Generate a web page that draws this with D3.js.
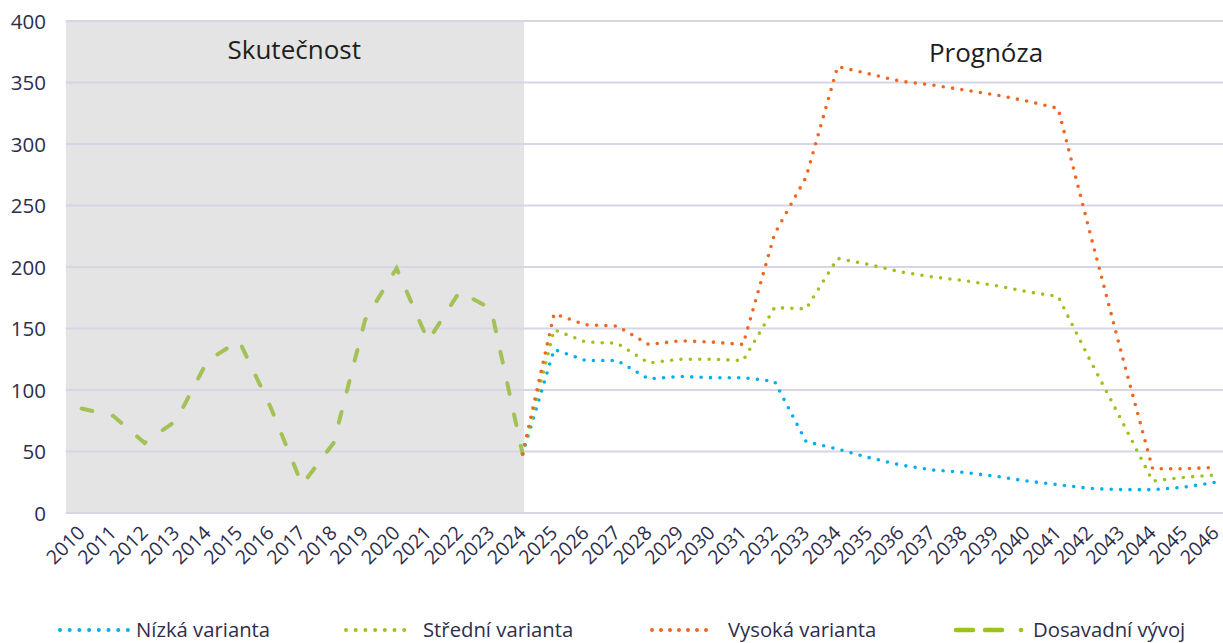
<!DOCTYPE html>
<html>
<head>
<meta charset="utf-8">
<script src="https://cdn.jsdelivr.net/npm/d3@7"></script>
<style>
  html, body { margin: 0; padding: 0; background: #fff; }
  svg { display: block; font-family: "Open Sans", "Noto Sans", sans-serif; }
</style>
</head>
<body>
<svg id="chart" width="1223" height="643"></svg>
<script>
// ---- data ----
const years = d3.range(2010, 2047).map(String);
const yTicks = [0, 50, 100, 150, 200, 250, 300, 350, 400];

// historical (2010–2024)
const historyYears = d3.range(2010, 2025).map(String);
const historyValues = [85, 79, 57, 75, 124, 140, 86, 23, 57, 157, 199, 140, 180, 166, 48];

// forecasts (2024–2046)
const forecastYears = d3.range(2024, 2047).map(String);
const lowValues =    [48, 133, 124, 124, 109, 111, 110, 110, 107, 58, 52, 45, 39, 35, 33, 30, 26, 23, 20, 19, 19, 21, 25];
const middleValues = [48, 149, 139, 138, 122, 125, 125, 124, 167, 166, 207, 202, 196, 192, 189, 185, 180, 176, 125, 76, 26, 29, 31];
const highValues =   [48, 162, 153, 152, 137, 140, 139, 137, 227, 273, 363, 357, 351, 348, 344, 340, 335, 329, 229, 131, 36, 36, 37];

const seriesNames = ["Nízká varianta", "Střední varianta", "Vysoká varianta", "Dosavadní vývoj"];
const periodLabels = ["Skutečnost", "Prognóza"];

// ---- layout ----
const svg = d3.select("#chart");
const step = 31.5;
const x0 = 81.6;
const x = d3.scalePoint().domain(years).range([x0, x0 + step * (years.length - 1)]);
const y = d3.scaleLinear().domain([0, 400]).range([513, 21]);
const plotLeft = x0 - step / 2;
const W = 1223;

const textColor = "#2d2d4d";
const cBlue = "#00aeef", cGreen = "#9bc31c", cOrange = "#f0661f", cHist = "#a3c157";

// shaded "actual" region
svg.append("rect")
  .attr("x", plotLeft).attr("y", y(400))
  .attr("width", x("2024") - plotLeft + 1.5)
  .attr("height", y(0) - y(400))
  .attr("fill", "#e4e4e4");

// gridlines
svg.append("g").selectAll("line").data(yTicks).join("line")
  .attr("x1", plotLeft).attr("x2", W)
  .attr("y1", d => y(d)).attr("y2", d => y(d))
  .attr("stroke", "#d6d6e6").attr("stroke-width", 2);

// y axis labels
const yAxis = d3.axisLeft(y).tickValues(yTicks).tickSize(0).tickPadding(0);
const gy = svg.append("g").attr("transform", "translate(46,0)").call(yAxis);
gy.select(".domain").remove();
gy.selectAll("text").attr("font-size", 20.5).attr("fill", textColor)
  .attr("font-family", "'Open Sans', sans-serif").attr("dy", "0.35em");

// x axis labels
const xAxis = d3.axisBottom(x).tickSize(0).tickPadding(0);
const gx = svg.append("g").attr("transform", `translate(0,${y(0)})`).call(xAxis);
gx.select(".domain").remove();
gx.selectAll("text")
  .attr("font-size", 19.5).attr("fill", textColor)
  .attr("font-family", "'Open Sans', sans-serif")
  .attr("text-anchor", "end")
  .attr("y", 0).attr("dy", 0)
  .attr("transform", "translate(4,21) rotate(-45)");

// period labels
svg.append("text").text(periodLabels[0])
  .attr("x", (plotLeft + x("2024")) / 2).attr("y", 59)
  .attr("text-anchor", "middle").attr("font-size", 26).attr("fill", "#1e1e1e");
svg.append("text").text(periodLabels[1])
  .attr("x", 986).attr("y", 62)
  .attr("text-anchor", "middle").attr("font-size", 26).attr("fill", "#1e1e1e");

// lines
const line = d3.line().x(d => x(d[0])).y(d => y(d[1]));

svg.append("path")
  .datum(historyYears.map((yr, i) => [yr, historyValues[i]]))
  .attr("d", line).attr("fill", "none")
  .attr("stroke", cHist).attr("stroke-width", 4)
  .attr("stroke-linecap", "round").attr("stroke-dasharray", "11,21");

const forecasts = [
  { values: lowValues, color: cBlue },
  { values: middleValues, color: cGreen },
  { values: highValues, color: cOrange }
];
forecasts.forEach(f => {
  svg.append("path")
    .datum(forecastYears.map((yr, i) => [yr, f.values[i]]))
    .attr("d", line).attr("fill", "none")
    .attr("stroke", f.color).attr("stroke-width", 3.6)
    .attr("stroke-linecap", "round").attr("stroke-dasharray", "0,9.4");
});

// legend
const legY = 630;
const legend = [
  { name: seriesNames[0], color: cBlue, x1: 60, x2: 128, tx: 136, dash: "0,9.7" },
  { name: seriesNames[1], color: cGreen, x1: 346, x2: 406, tx: 423, dash: "0,9.7" },
  { name: seriesNames[2], color: cOrange, x1: 652, x2: 706, tx: 728, dash: "0,9" },
  { name: seriesNames[3], color: cGreen, x1: 956, x2: 1024, tx: 1033, dash: "17,12,17,19,0.1,100" }
];
legend.forEach((l, i) => {
  svg.append("line")
    .attr("x1", l.x1).attr("x2", l.x2 + (i === 3 ? 1 : 0.01))
    .attr("y1", legY).attr("y2", legY)
    .attr("stroke", l.color).attr("stroke-width", i === 3 ? 4.5 : 4)
    .attr("stroke-linecap", "round").attr("stroke-dasharray", l.dash);
  svg.append("text").text(l.name)
    .attr("x", l.tx).attr("y", legY + 7)
    .attr("font-size", 20.3).attr("fill", textColor);
});
</script>
</body>
</html>
